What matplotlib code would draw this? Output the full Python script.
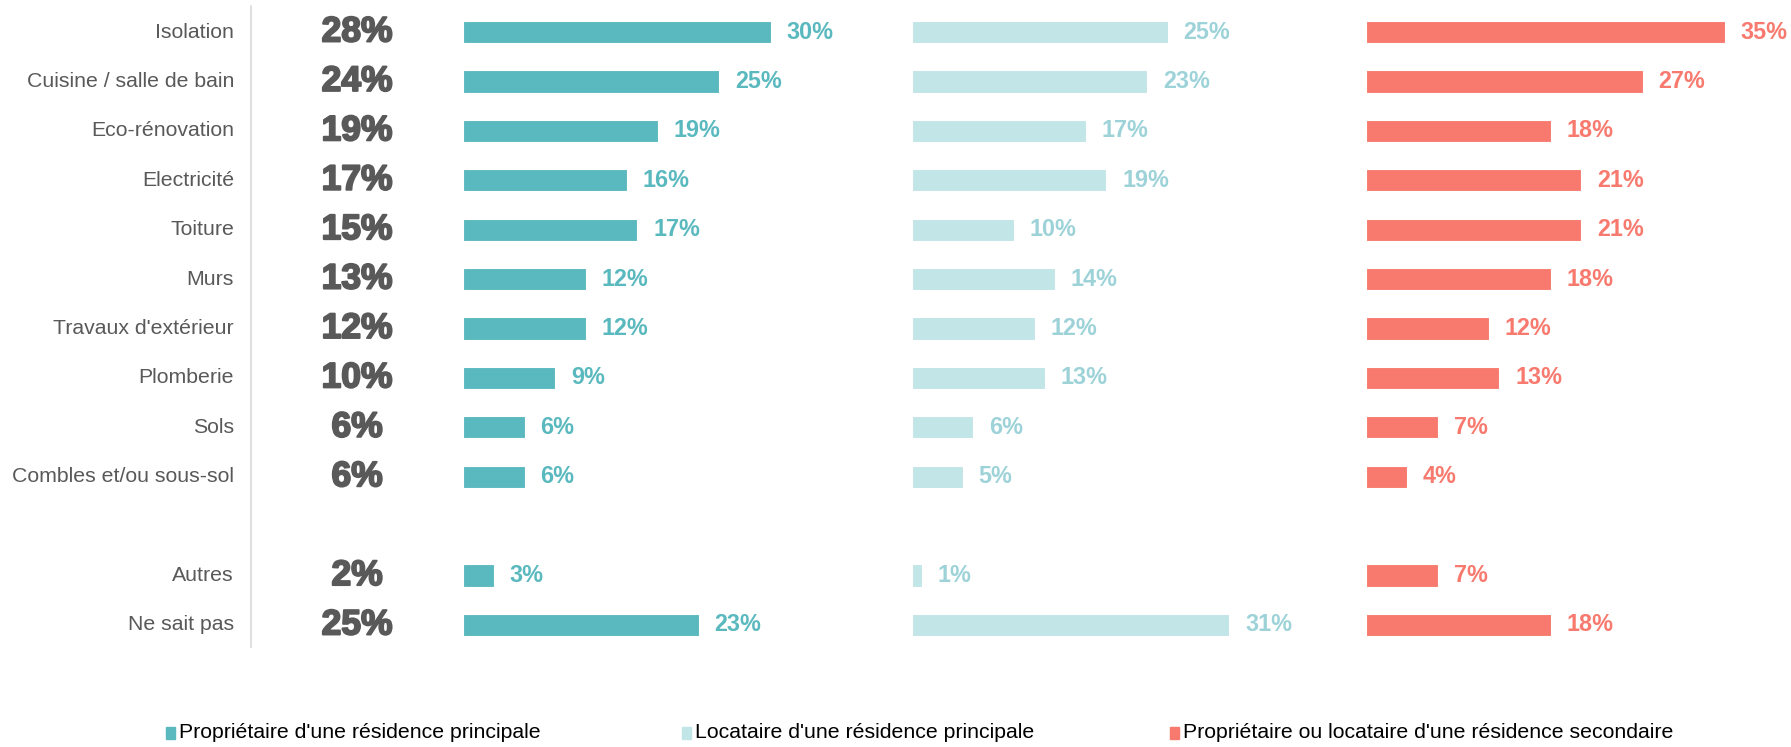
import matplotlib
matplotlib.use("Agg")
import matplotlib.pyplot as plt
from matplotlib.patches import Rectangle
import matplotlib.patheffects as pe

categories = ["Isolation", "Cuisine / salle de bain", "Eco-rénovation", "Electricité",
              "Toiture", "Murs", "Travaux d'extérieur", "Plomberie", "Sols",
              "Combles et/ou sous-sol", "", "Autres", "Ne sait pas"]
total = [28, 24, 19, 17, 15, 13, 12, 10, 6, 6, None, 2, 25]
proprietaire = [30, 25, 19, 16, 17, 12, 12, 9, 6, 6, None, 3, 23]
locataire = [25, 23, 17, 19, 10, 14, 12, 13, 6, 5, None, 1, 31]
secondaire = [35, 27, 18, 21, 21, 18, 12, 13, 7, 4, None, 7, 18]
series_names = ["Propriétaire d'une résidence principale",
                "Locataire d'une résidence principale",
                "Propriétaire ou locataire d'une résidence secondaire"]

bar_colors = ["#5AB9BE", "#C2E5E7", "#F87A6E"]
text_colors = ["#5AB9BE", "#9DD3D8", "#F87A6E"]
grey = "#595959"

W, H = 1791, 747
fig = plt.figure(figsize=(W / 100, H / 100), dpi=100)
plt.rcParams['font.family'] = ['Liberation Sans', 'DejaVu Sans']

top_px, bot_px = 7.3, 649.7
ax_b = 1 - bot_px / H
ax_h = (bot_px - top_px) / H
px_per = 10.25
lefts = [463, 911.5, 1366]
span = 40

rows = list(range(len(categories)))

# label axes (left)
axl = fig.add_axes([0, ax_b, 251 / W, ax_h])
axl.set_xlim(0, 251)
axl.set_ylim(len(categories) - 0.5, -0.5)
axl.axis("off")
for i, c in enumerate(categories):
    if c:
        axl.text(234, i, c, ha="right", va="center", fontsize=15.3, color=grey)
fig.add_artist(plt.Line2D([251.5 / W, 251.5 / W], [1 - 6 / H, 1 - 647 / H], color="#D9D9D9", lw=1.2))

# totals axes
axt = fig.add_axes([251 / W, ax_b, 200 / W, ax_h])
axt.set_xlim(251, 451)
axt.set_ylim(len(categories) - 0.5, -0.5)
axt.axis("off")
for i, t in enumerate(total):
    if t is not None:
        axt.text(357, i, f"{t}%", ha="center", va="center", fontsize=25.5, fontweight="bold",
                 color=grey, path_effects=[pe.withStroke(linewidth=1.4, foreground=grey)])

all_series = [proprietaire, locataire, secondaire]
for k, (vals, left) in enumerate(zip(all_series, lefts)):
    ax = fig.add_axes([left / W, ax_b, span * px_per / W, ax_h])
    ax.set_xlim(0, span)
    ax.set_ylim(len(categories) - 0.5, -0.5)
    ax.axis("off")
    ys = [i for i, v in zip(rows, vals) if v is not None]
    vs = [v for v in vals if v is not None]
    ax.barh(ys, vs, height=0.45, color=bar_colors[k], edgecolor="white", linewidth=0.8)
    for y, v in zip(ys, vs):
        ax.text(v + 1.55, y, f"{v}%", ha="left", va="center", fontsize=16.8,
                fontweight="bold", color=text_colors[k])

# legend
leg_y = 1 - 733 / H
marker_x = [166, 682, 1170]
for k, (name, mx) in enumerate(zip(series_names, marker_x)):
    fig.add_artist(Rectangle((mx / W, (H - 739) / H), 9 / W, 12 / H,
                             transform=fig.transFigure, color=bar_colors[k]))
    fig.text((mx + 13) / W, leg_y, name, ha="left", va="center", fontsize=15.3, color="#000000")

fig.savefig("out.png", dpi=100, facecolor="white")
